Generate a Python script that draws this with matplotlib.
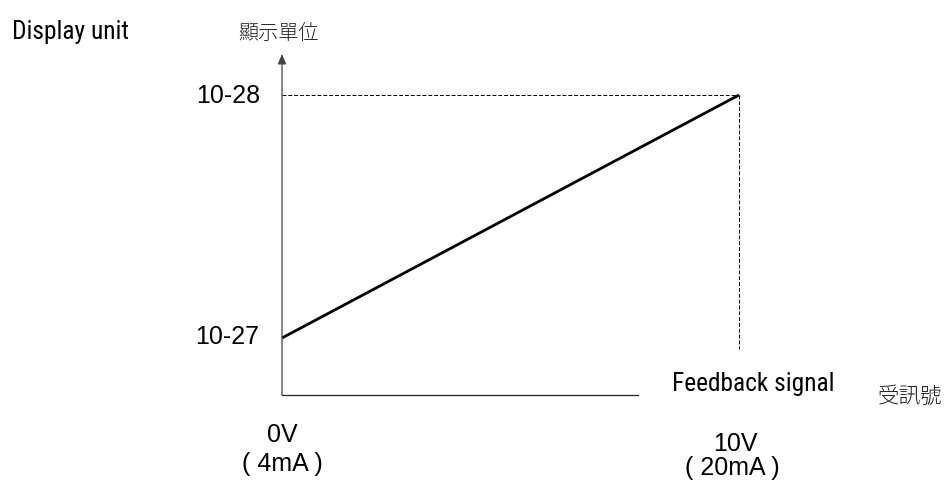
import matplotlib
matplotlib.use("Agg")
import matplotlib.pyplot as plt

# feedback signal (V) vs display value (0 -> 10-27, 1 -> 10-28)
signal = [0, 10]
display = [0, 1]
x_top = ["0V", "10V"]
x_bottom = ["( 4mA )", "( 20mA )"]
y_labels = ["10-27", "10-28"]

narrow = "Roboto Condensed"
sans = "Liberation Sans"
cjk = "Noto Sans CJK JP"

fig = plt.figure(figsize=(9.48, 4.81), dpi=100)
ax = fig.add_axes([0, 0, 1, 1])
ax.set_xlim(-6.171, 14.573)
ax.set_ylim(-0.5844, 1.395)
ax.axis("off")

y_bottom = -0.2346
x_end = 7.79
y_top = 1.169

# axes
ax.plot([signal[0], x_end], [y_bottom, y_bottom], color="#222222", lw=0.9)
ax.annotate("", xy=(signal[0], y_top), xytext=(signal[0], y_bottom),
            arrowprops=dict(arrowstyle="-|>,head_length=0.6,head_width=0.25",
                            color="#444444", lw=0.9, shrinkA=0, shrinkB=0))

# guide lines
ax.plot([signal[0], signal[1]], [display[1], display[1]], color="black",
        lw=0.7, ls=(0, (4, 2)))
ax.plot([signal[1], signal[1]], [display[1], -0.045], color="black",
        lw=0.7, ls=(0, (4, 2)))

# characteristic
ax.plot(signal, display, color="black", lw=2.0, solid_capstyle="butt")

# tick labels
ax.text(-0.5, display[0] - 0.021, y_labels[0], ha="right", va="baseline",
        fontsize=18, family=sans)
ax.text(-0.48, display[1] - 0.029, y_labels[1], ha="right", va="baseline",
        fontsize=18, family=sans)
ax.text(signal[0], -0.424, x_top[0], ha="center", va="baseline", fontsize=18,
        family=sans)
ax.text(signal[0], -0.542, x_bottom[0], ha="center", va="baseline",
        fontsize=18, family=sans)
ax.text(signal[1] - 0.09, -0.462, x_top[1], ha="center", va="baseline",
        fontsize=18, family=sans)
ax.text(signal[1] - 0.15, -0.558, x_bottom[1], ha="center", va="baseline",
        fontsize=18, family=sans)

# axis titles
ax.text(-5.908, 1.265, "Display unit", ha="left", va="center", fontsize=18.3,
        family=narrow)
ax.text(-0.963, 1.259, "顯示單位", ha="left", va="center", fontsize=14.5,
        family=cjk, fontweight="light", color="#222222")
ax.text(8.534, -0.185, "Feedback signal", ha="left", va="center",
        fontsize=18.3, family=narrow)
ax.text(13.04, -0.239, "受訊號", ha="left", va="center", fontsize=15.5,
        family=cjk, fontweight="light", color="#222222")

fig.savefig("out.png", dpi=100)
